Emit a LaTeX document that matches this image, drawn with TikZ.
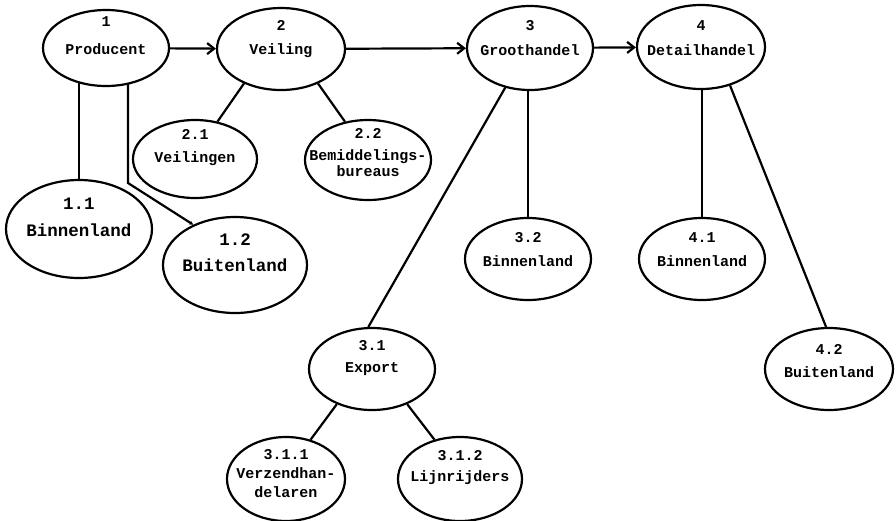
\documentclass[tikz,border=0pt]{standalone}
\usepackage{fontspec}
\setmonofont{Liberation Mono}
\usetikzlibrary{shapes.geometric,arrows.meta,backgrounds}
\begin{document}
\begin{tikzpicture}[x=1pt,y=-1pt,
  oval/.style 2 args={draw, ellipse, line width=2.2pt, fill=white,
    inner sep=0pt, minimum width=#1, minimum height=#2},
  txt/.style={font=\ttfamily\bfseries\fontsize{15}{17}\selectfont,
    inner sep=0pt, align=center},
  bigtxt/.style={font=\ttfamily\bfseries\fontsize{17.5}{20}\selectfont,
    inner sep=0pt, align=center},
  link/.style={line width=2.2pt},
  flow/.style={line width=2.2pt, -{Straight Barb[length=7pt,width=11pt,line width=2.2pt]}},
  tip/.style={line width=2.2pt, -{Stealth[length=4pt,width=4pt]}}
]
\useasboundingbox (0,0) rectangle (896,520);

% ovals
\node[oval={126pt}{76pt}]  (p1)   at (106,48)  {};
\node[oval={128pt}{82pt}]  (p2)   at (281,49)  {};
\node[oval={126pt}{84pt}]  (p3)   at (530,48)  {};
\node[oval={128pt}{84pt}]  (p4)   at (701,47)  {};
\node[oval={124pt}{78pt}]  (p21)  at (195,159) {};
\node[oval={126pt}{80pt}]  (p22)  at (368,160) {};
\node[oval={146pt}{98pt}]  (p11)  at (79,229)  {};
\node[oval={144pt}{96pt}]  (p12)  at (235,265) {};
\node[oval={126pt}{82pt}]  (p32)  at (528,259) {};
\node[oval={126pt}{82pt}]  (p41)  at (702,259) {};
\node[oval={128pt}{82pt}]  (p42)  at (829,369) {};
\node[oval={126pt}{82pt}]  (p31)  at (372,369) {};
\node[oval={118pt}{84pt}]  (p311) at (286,479) {};
\node[oval={124pt}{84pt}]  (p312) at (460,479) {};

% numbers
\node[txt] (n1)   at ([yshift=26pt]p1.center)   {1};
\node[txt] (n2)   at ([yshift=24pt]p2.center)   {2};
\node[txt] (n3)   at ([yshift=22pt]p3.center)   {3};
\node[txt] (n4)   at ([yshift=21pt]p4.center)   {4};
\node[txt] (n21)  at ([yshift=25pt]p21.center)  {2.1};
\node[txt] (n22)  at ([yshift=27pt]p22.center)  {2.2};
\node[bigtxt] (n11) at ([yshift=25pt]p11.center) {1.1};
\node[bigtxt] (n12) at ([yshift=25pt]p12.center) {1.2};
\node[txt] (n32)  at ([yshift=21pt]p32.center)  {3.2};
\node[txt] (n41)  at ([yshift=21pt]p41.center)  {4.1};
\node[txt] (n42)  at ([yshift=20pt]p42.center)  {4.2};
\node[txt] (n31)  at ([yshift=23pt]p31.center)  {3.1};
\node[txt] (n311) at ([yshift=24pt]p311.center) {3.1.1};
\node[txt] (n312) at ([yshift=23pt]p312.center) {3.1.2};

% names
\node[txt] (m1)   at ([yshift=-1pt]p1.center)   {Producent};
\node[txt] (m2)   at ([yshift=-2pt]p2.center)   {Veiling};
\node[txt] (m3)   at ([yshift=-2pt]p3.center)   {Groothandel};
\node[txt] (m4)   at ([yshift=-3pt]p4.center)   {Detailhandel};
\node[txt] (m21)  at ([yshift=0pt]p21.center)   {Veilingen};
\node[txt,font=\ttfamily\bfseries\fontsize{15}{16}\selectfont]
           (m22)  at ([yshift=-3pt]p22.center)  {Bemiddelings-\\bureaus};
\node[bigtxt] (m11) at ([yshift=-1pt]p11.center) {Binnenland};
\node[bigtxt] (m12) at ([yshift=0pt]p12.center)  {Buitenland};
\node[txt] (m32)  at ([yshift=-2pt]p32.center)  {Binnenland};
\node[txt] (m41)  at ([yshift=-2pt]p41.center)  {Binnenland};
\node[txt] (m42)  at ([yshift=-3pt]p42.center)  {Buitenland};
\node[txt] (m31)  at ([yshift=0pt]p31.center)   {Export};
\node[txt,font=\ttfamily\bfseries\fontsize{15}{19}\selectfont]
           (m311) at ([yshift=-4pt]p311.center) {Verzendhan-\\delaren};
\node[txt] (m312) at ([yshift=1pt]p312.center)  {Lijnrijders};

% connectors, drawn beneath the white-filled ovals
\coordinate (k12) at (128,183);
\begin{scope}[on background layer]
  \draw[flow] (p1) -- (p2);
  \draw[flow] (p2) -- (p3);
  \draw[flow] (p3) -- (p4);
  \draw[link] (p11.north) -- (p11.north |- p1.center);
  \draw[tip]  (k12 |- p1.center) -- (k12) -- (p12.136);
  \draw[link] (p2.223) -- (p21.59);
  \draw[link] (p2.317) -- (p22.121);
  \draw[link] (p3.238) -- (p31.95);
  \draw[link] (p32.north) -- (p32.north |- p3.center);
  \draw[link] (p41.north) -- (p41.north |- p4.center);
  \draw[link] (p4.307) -- (p42.94);
  \draw[link] (p31.225) -- (p311.58);
  \draw[link] (p31.315) -- (p312.123);
\end{scope}
\end{tikzpicture}
\end{document}
